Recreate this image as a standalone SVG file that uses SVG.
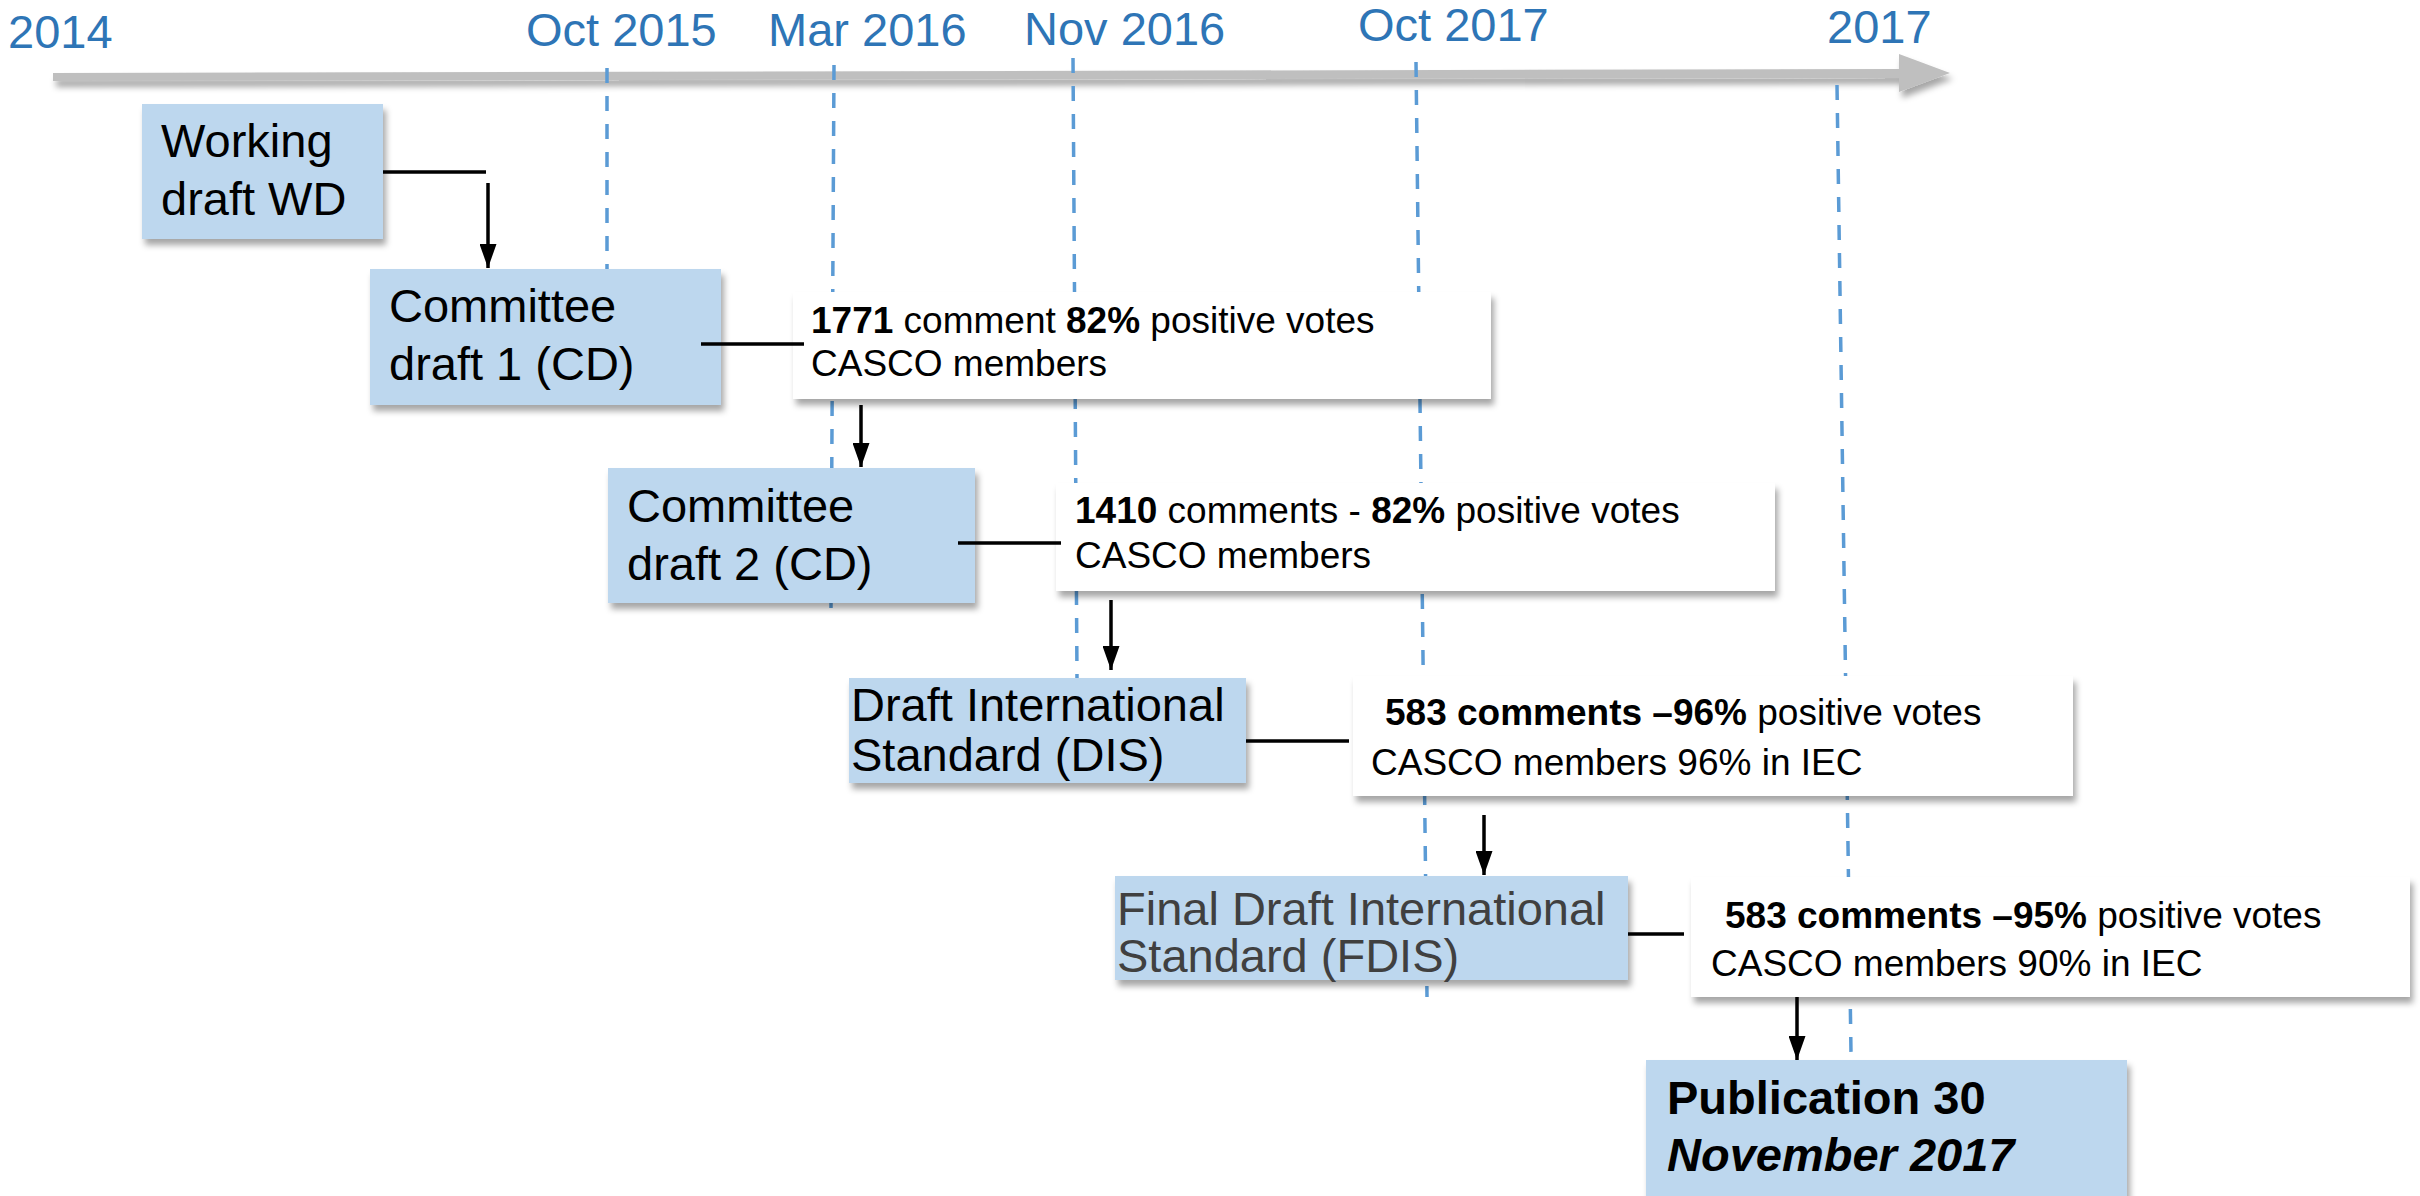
<svg xmlns="http://www.w3.org/2000/svg" width="2420" height="1196" viewBox="0 0 2420 1196">
<style>
.yr{font-family:"Liberation Sans",Arial,sans-serif;font-size:47px;fill:#2e75b6}
.lbl{font-family:"Liberation Sans",Arial,sans-serif;font-size:47px;fill:#000}
.cmt{font-family:"Liberation Sans",Arial,sans-serif;font-size:37px;fill:#000}
.b{font-weight:bold}
.blue{fill:#bdd7ee}
.white{fill:#ffffff}
.dash{stroke:#5b9bd5;stroke-width:3.5;stroke-dasharray:15 13;fill:none}
.con{stroke:#000;stroke-width:3.5;fill:none}
</style>
<defs>
<filter id="sh" x="-10%" y="-10%" width="130%" height="140%">
<feDropShadow dx="3" dy="6" stdDeviation="3" flood-color="#000" flood-opacity="0.35"/>
</filter>
<marker id="ah" markerWidth="24" markerHeight="17" refX="24" refY="8.5" orient="auto" markerUnits="userSpaceOnUse" viewBox="0 0 24 17">
<path d="M0,0 L24,8.5 L0,17 Z" fill="#000"/>
</marker>
</defs>
<rect width="2420" height="1196" fill="#fff"/>

<g id="timeline">
<g filter="url(#sh)">
<polygon points="53,73 1899,69 1899,78 53,81" fill="#bfbfbf"/>
<polygon points="1899,54 1950,73 1899,92" fill="#bfbfbf"/>
</g>
<text class="yr" x="8" y="48">2014</text>
<text class="yr" x="526" y="46">Oct 2015</text>
<text class="yr" x="768" y="46">Mar 2016</text>
<text class="yr" x="1024" y="45">Nov 2016</text>
<text class="yr" x="1358" y="41">Oct 2017</text>
<text class="yr" x="1827" y="43">2017</text>
</g>

<g id="gridlines">
<line class="dash" x1="607" y1="68" x2="607" y2="269"/>
<line class="dash" x1="834" y1="65" x2="831" y2="608"/>
<line class="dash" x1="1073" y1="58" x2="1077" y2="678"/>
<line class="dash" x1="1416" y1="62" x2="1427" y2="997"/>
<line class="dash" x1="1837" y1="85" x2="1851" y2="1053"/>
</g>

<g id="wd">
<rect class="blue" x="142" y="104" width="241" height="135" filter="url(#sh)"/>
<text class="lbl" x="161" y="157">Working</text>
<text class="lbl" x="161" y="215">draft WD</text>
</g>

<g id="cd1">
<rect class="blue" x="370" y="269" width="351" height="136" filter="url(#sh)"/>
<text class="lbl" x="389" y="322">Committee</text>
<text class="lbl" x="389" y="380">draft 1 (CD)</text>
</g>

<g id="c1">
<rect class="white" x="793" y="292" width="698" height="107" filter="url(#sh)"/>
<text class="cmt" x="811" y="333"><tspan class="b">1771</tspan> comment <tspan class="b">82%</tspan> positive votes</text>
<text class="cmt" x="811" y="376">CASCO members</text>
</g>

<g id="cd2">
<rect class="blue" x="608" y="468" width="367" height="135" filter="url(#sh)"/>
<text class="lbl" x="627" y="522">Committee</text>
<text class="lbl" x="627" y="580">draft 2 (CD)</text>
</g>

<g id="c2">
<rect class="white" x="1056" y="483" width="719" height="108" filter="url(#sh)"/>
<text class="cmt" x="1075" y="523"><tspan class="b">1410</tspan> comments - <tspan class="b">82%</tspan> positive votes</text>
<text class="cmt" x="1075" y="568">CASCO members</text>
</g>

<g id="dis">
<rect class="blue" x="849" y="678" width="397" height="105" filter="url(#sh)"/>
<text class="lbl" x="851" y="721">Draft International</text>
<text class="lbl" x="851" y="771">Standard (DIS)</text>
</g>

<g id="c3">
<rect class="white" x="1353" y="676" width="720" height="120" filter="url(#sh)"/>
<text class="cmt" x="1385" y="725"><tspan class="b">583 comments –96%</tspan> positive votes</text>
<text class="cmt" x="1371" y="775">CASCO members 96% in IEC</text>
</g>

<g id="fdis">
<rect class="blue" x="1115" y="876" width="513" height="104" filter="url(#sh)"/>
<text class="lbl" x="1117" y="925" style="fill:#404040">Final Draft International</text>
<text class="lbl" x="1117" y="972" style="fill:#404040">Standard (FDIS)</text>
</g>

<g id="c4">
<rect class="white" x="1691" y="877" width="719" height="120" filter="url(#sh)"/>
<text class="cmt" x="1725" y="928"><tspan class="b">583 comments –95%</tspan> positive votes</text>
<text class="cmt" x="1711" y="976">CASCO members 90% in IEC</text>
</g>

<g id="pub">
<rect class="blue" x="1646" y="1060" width="481" height="150" filter="url(#sh)"/>
<text class="lbl b" x="1667" y="1114">Publication 30</text>
<text class="lbl b" x="1667" y="1171" font-style="italic">November 2017</text>
</g>

<g id="connectors">
<line class="con" x1="383" y1="172" x2="486" y2="172"/>
<line class="con" x1="488" y1="183" x2="488" y2="268" marker-end="url(#ah)"/>
<line class="con" x1="701" y1="344" x2="804" y2="344"/>
<line class="con" x1="861" y1="405" x2="861" y2="467" marker-end="url(#ah)"/>
<line class="con" x1="958" y1="543" x2="1061" y2="543"/>
<line class="con" x1="1111" y1="600" x2="1111" y2="670" marker-end="url(#ah)"/>
<line class="con" x1="1246" y1="741" x2="1349" y2="741"/>
<line class="con" x1="1484" y1="815" x2="1484" y2="875" marker-end="url(#ah)"/>
<line class="con" x1="1628" y1="934" x2="1684" y2="934"/>
<line class="con" x1="1797" y1="997" x2="1797" y2="1060" marker-end="url(#ah)"/>
</g>
</svg>
